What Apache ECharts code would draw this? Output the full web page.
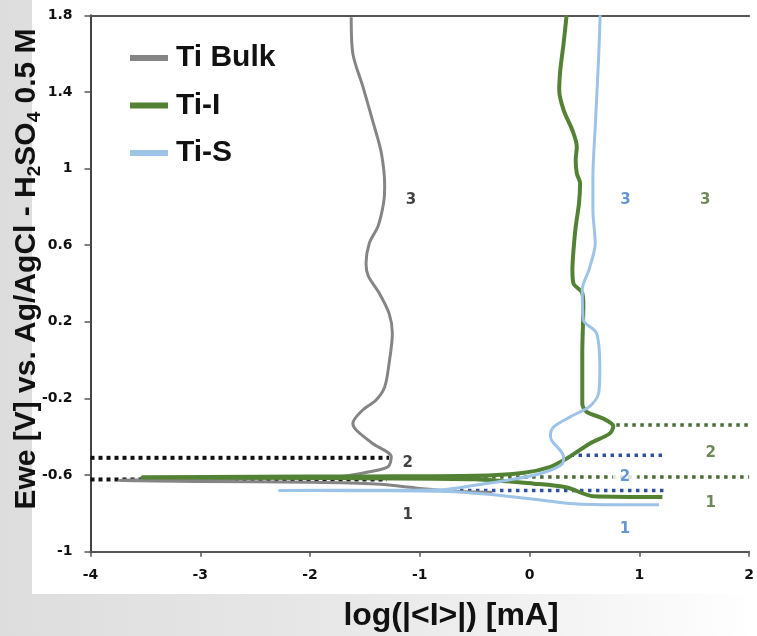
<!DOCTYPE html>
<html>
<head>
  <meta charset="utf-8">
  <script src="https://cdn.jsdelivr.net/npm/echarts@6/dist/echarts.min.js"></script>
  <style>
    html, body { margin: 0; padding: 0; }
    #main { width: 757px; height: 636px; }
  </style>
</head>
<body>
<div id="main"></div>
<script>
// ---- data: [log|I| (mA), Ewe (V)] ----
var tiBulk = [
  [-0.34, -0.69], [-0.71, -0.685], [-1.04, -0.667], [-1.40, -0.647], [-2.0, -0.638],
  [-3.0, -0.633], [-3.74, -0.628], [-3.0, -0.622], [-2.2, -0.614], [-1.70, -0.606],
  [-1.46, -0.583], [-1.29, -0.557], [-1.26, -0.505], [-1.43, -0.435], [-1.58, -0.365],
  [-1.61, -0.33], [-1.52, -0.26], [-1.40, -0.209], [-1.32, -0.14], [-1.28, -0.017],
  [-1.25, 0.14], [-1.28, 0.244], [-1.37, 0.35], [-1.47, 0.44], [-1.49, 0.505],
  [-1.46, 0.61], [-1.38, 0.70], [-1.33, 0.82], [-1.32, 0.905], [-1.35, 1.08],
  [-1.43, 1.25], [-1.52, 1.43], [-1.61, 1.60], [-1.625, 1.79]
];
var tiI = [
  [1.21, -0.714], [0.58, -0.71], [0.34, -0.665], [0.04, -0.645], [-0.5, -0.622],
  [-1.5, -0.617], [-2.5, -0.614], [-3.53, -0.612], [-2.5, -0.609], [-1.5, -0.607],
  [-0.5, -0.604], [-0.05, -0.588], [0.19, -0.557], [0.34, -0.513], [0.55, -0.435],
  [0.73, -0.383], [0.763, -0.345], [0.67, -0.305], [0.52, -0.27], [0.48, -0.226],
  [0.48, 0.035], [0.49, 0.28], [0.48, 0.35], [0.40, 0.40], [0.39, 0.47],
  [0.40, 0.574], [0.42, 0.696], [0.45, 0.818], [0.46, 0.923], [0.43, 0.975],
  [0.42, 1.044], [0.43, 1.114], [0.39, 1.20], [0.31, 1.305], [0.27, 1.41],
  [0.28, 1.515], [0.31, 1.654], [0.337, 1.80]
];
var tiS = [
  [1.18, -0.755], [0.8, -0.755], [0.40, -0.75], [0.1, -0.73], [-0.2, -0.71],
  [-0.5, -0.695], [-0.8, -0.685], [-1.5, -0.682], [-2.28, -0.68], [-1.5, -0.679],
  [-0.8, -0.676], [-0.5, -0.653], [-0.2, -0.627], [0.10, -0.592], [0.30, -0.54],
  [0.31, -0.505], [0.20, -0.418], [0.19, -0.392], [0.22, -0.348], [0.37, -0.296],
  [0.55, -0.24], [0.63, -0.17], [0.64, -0.05], [0.61, 0.14], [0.49, 0.21],
  [0.48, 0.37], [0.54, 0.47], [0.598, 0.61], [0.577, 0.783], [0.577, 0.957],
  [0.598, 1.218], [0.628, 1.567], [0.643, 1.80]
];
// guide lines: [x start, x end, Ewe]
var bulkGuides = [[-4, -1.28, -0.51], [-4, -1.30, -0.623]];
var tiIGuides = [[0.79, 2, -0.339], [-0.56, 2, -0.61]];
var tiSGuides = [[0.373, 1.23, -0.496], [-0.78, 1.23, -0.68]];
// region numbers: [x, y, text]
var bulkMarks = [[-1.08, 0.835, '3'], [-1.11, -0.54, '2'], [-1.11, -0.81, '1']];
var tiIMarks = [[1.60, 0.835, '3'], [1.65, -0.487, '2'], [1.65, -0.748, '1']];
var tiSMarks = [[0.874, 0.835, '3'], [0.87, -0.61, '2'], [0.87, -0.88, '1']];
var yTicks = [-1, -0.6, -0.2, 0.2, 0.6, 1, 1.4, 1.8];

var names = ['Ti Bulk', 'Ti-I', 'Ti-S'];
var colors = ['#858585', '#548235', '#9dc3e6'];

function guideSeries(list, color, width, dash) {
  return list.map(function (g) {
    return {
      type: 'line', symbol: 'none', silent: true, z: 3,
      data: [[g[0], g[2]], [g[1], g[2]]],
      lineStyle: { color: color, width: width, type: dash }
    };
  });
}
function markSeries(list, color, gapIndex) {
  return {
    type: 'scatter', symbolSize: 0, silent: true, z: 6,
    data: list.map(function (m, i) {
      return { value: [m[0], m[1]], name: m[2],
        label: i === gapIndex ? { backgroundColor: '#fff', padding: [0, 7] } : {} };
    }),
    label: {
      show: true, position: 'inside', formatter: '{b}', color: color,
      fontFamily: 'DejaVu Sans', fontWeight: 'bold', fontSize: 15
    }
  };
}

var chart = echarts.init(document.getElementById('main'), null, { renderer: 'canvas' });
var series = [
  { name: names[0], type: 'line', data: tiBulk, symbol: 'none', smooth: 0.3, z: 4,
    color: colors[0], lineStyle: { width: 3, color: colors[0] } },
  { name: names[1], type: 'line', data: tiI, symbol: 'none', smooth: 0.3, z: 4,
    color: colors[1], lineStyle: { width: 4, color: colors[1] } },
  { name: names[2], type: 'line', data: tiS, symbol: 'none', smooth: 0.3, z: 5,
    color: colors[2], lineStyle: { width: 3, color: colors[2] } }
]
  .concat(guideSeries(bulkGuides, '#111', 4, [4, 4]))
  .concat(guideSeries(tiIGuides, '#4a6b35', 3.5, [3.5, 4.5]))
  .concat(guideSeries(tiSGuides, '#2f4f9f', 3.5, [3.5, 4.5]))
  .concat([
    markSeries(bulkMarks, '#111', -1),
    markSeries(tiIMarks, '#4a6b30', -1),
    markSeries(tiSMarks, '#3d7cc9', 1)
  ]);

var tickFont = { fontFamily: 'DejaVu Sans', fontWeight: 'bold', fontSize: 14, color: '#111' };

chart.setOption({
  animation: false,
  backgroundColor: {
    type: 'linear', x: 0, y: 0, x2: 1, y2: 0,
    colorStops: [
      { offset: 0, color: '#dddddd' }, { offset: 0.5, color: '#e9e9e9' },
      { offset: 0.85, color: '#f8f8f8' }, { offset: 1, color: '#ffffff' }
    ]
  },
  graphic: [
    { type: 'rect', z: -100, silent: true, shape: { x: 32, y: 0, width: 725, height: 594 },
      style: { fill: '#ffffff' } },
    { type: 'text', x: 27, y: 269, rotation: Math.PI / 2, silent: true,
      style: {
        text: '{a|Ewe [V] vs. Ag/AgCl - H}{s|2}{a|SO}{s|4}{a| 0.5 M}',
        align: 'center', verticalAlign: 'middle', textAlign: 'center', textVerticalAlign: 'middle',
        fill: '#111',
        rich: {
          a: { fontFamily: 'Liberation Sans', fontWeight: 'bold', fontSize: 30, lineHeight: 34, color: '#111' },
          s: { fontFamily: 'Liberation Sans', fontWeight: 'bold', fontSize: 19, lineHeight: 20,
               verticalAlign: 'bottom', color: '#111' }
        }
      } },
    { type: 'text', x: 451, y: 616, silent: true,
      style: { text: 'log(|<I>|) [mA]', fill: '#111',
        fontFamily: 'Liberation Sans', fontWeight: 'bold', fontSize: 32,
        align: 'center', verticalAlign: 'middle', textAlign: 'center', textVerticalAlign: 'middle' } }
  ],
  legend: {
    orient: 'vertical', left: 125, top: 38,
    itemWidth: 38, itemHeight: 6, itemGap: 17.5, icon: 'rect',
    data: names,
    textStyle: { fontFamily: 'Liberation Sans', fontWeight: 'bold', fontSize: 30,
      lineHeight: 30, color: '#111', padding: [0, 0, 0, 3] }
  },
  grid: { left: 90.5, right: 0.5, top: 15.3, bottom: 84.3, containLabel: false },
  xAxis: [
    { type: 'value', min: -4, max: 2, interval: 1,
      axisLine: { onZero: false, lineStyle: { color: '#555', width: 2 } },
      axisTick: { show: true, length: 5, lineStyle: { color: '#555', width: 1.5 } },
      axisLabel: Object.assign({ margin: 17 }, tickFont),
      splitLine: { show: false } },
    { type: 'value', position: 'top', min: -4, max: 2,
      axisLine: { show: true, onZero: false, lineStyle: { color: '#555', width: 2 } },
      axisTick: { show: false }, axisLabel: { show: false }, splitLine: { show: false } }
  ],
  yAxis: {
    type: 'value', min: -1, max: 1.8,
    axisLine: { show: true, onZero: false, lineStyle: { color: '#444', width: 2 } },
    axisTick: { show: true, length: 6, customValues: yTicks, lineStyle: { color: '#555', width: 1.5 } },
    axisLabel: Object.assign({ margin: 18, customValues: yTicks }, tickFont),
    splitLine: { show: false }
  },
  series: series
});
</script>
</body>
</html>
